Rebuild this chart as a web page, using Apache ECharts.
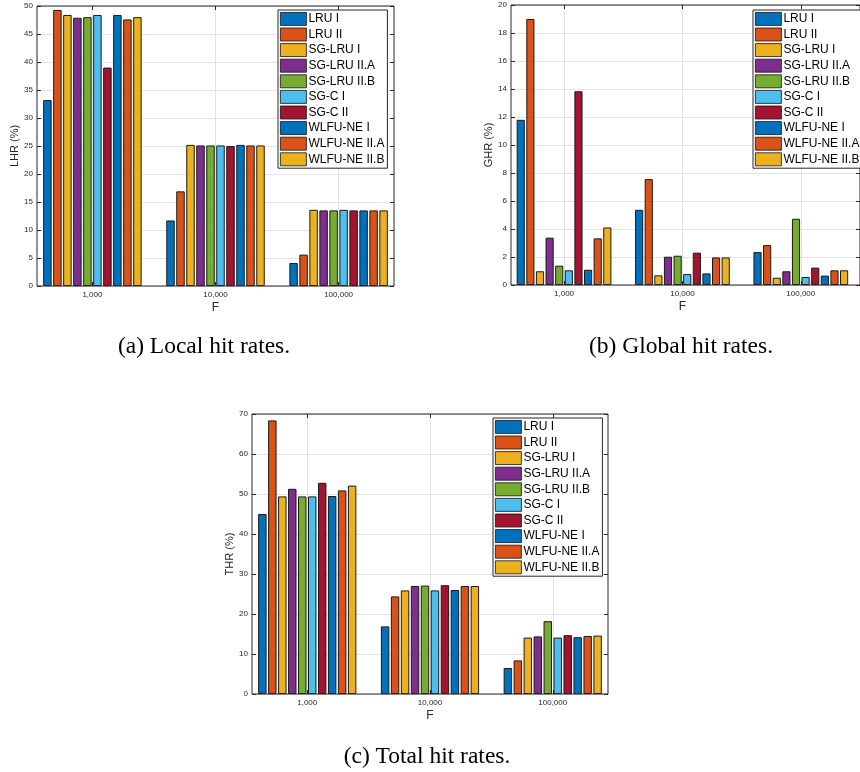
<!DOCTYPE html>
<html>
<head>
<meta charset="utf-8">
<script src="https://cdn.jsdelivr.net/npm/echarts@6/dist/echarts.min.js"></script>
<style>html,body{margin:0;padding:0;background:#fff;}#c{width:860px;height:772px;}</style>
</head>
<body>
<div id="c"></div>
<script>
const categories = ['1,000', '10,000', '100,000'];
const seriesNames = ['LRU I', 'LRU II', 'SG-LRU I', 'SG-LRU II.A', 'SG-LRU II.B', 'SG-C I', 'SG-C II', 'WLFU-NE I', 'WLFU-NE II.A', 'WLFU-NE II.B'];
const colors = ['#0072BD', '#D95319', '#EDB120', '#7E2F8E', '#77AC30', '#4DBEEE', '#A2142F', '#0072BD', '#D95319', '#EDB120'];

// Local hit rates (%) per series: [1,000, 10,000, 100,000]
const lhr = [
  [33.2, 11.7, 4.1],
  [49.3, 16.9, 5.6],
  [48.4, 25.2, 13.6],
  [47.9, 25.1, 13.5],
  [48.0, 25.1, 13.5],
  [48.4, 25.1, 13.6],
  [39.0, 25.0, 13.5],
  [48.4, 25.2, 13.5],
  [47.6, 25.1, 13.5],
  [48.0, 25.1, 13.5]
];
// Global hit rates (%)
const ghr = [
  [11.8, 5.37, 2.35],
  [19.0, 7.56, 2.85],
  [0.98, 0.69, 0.52],
  [3.38, 2.02, 0.98],
  [1.38, 2.09, 4.73],
  [1.05, 0.78, 0.57],
  [13.84, 2.31, 1.24],
  [1.09, 0.83, 0.67],
  [3.33, 1.97, 1.05],
  [4.11, 1.97, 1.05]
];
// Total hit rates (%)
const thr = [
  [45.0, 16.9, 6.5],
  [68.4, 24.4, 8.4],
  [49.4, 25.9, 14.1],
  [51.3, 27.0, 14.4],
  [49.4, 27.1, 18.2],
  [49.4, 25.9, 14.1],
  [52.8, 27.2, 14.7],
  [49.5, 26.0, 14.2],
  [50.9, 27.0, 14.5],
  [52.1, 27.0, 14.6]
];
const yTicks = {a: [0, 50, 5], b: [0, 20, 2], c: [0, 70, 10]};
const yNames = ['LHR (%)', 'GHR (%)', 'THR (%)'];
const xName = 'F';
const captions = ['(a) Local hit rates.', '(b) Global hit rates.', '(c) Total hit rates.'];

const panels = [
  {L: 37, W: 357, T: 6, H: 280, data: lhr, yt: yTicks.a, legend: [278, 10], cap: [204, 347]},
  {L: 511, W: 357, T: 5, H: 280, data: ghr, yt: yTicks.b, legend: [753, 10], cap: [681, 347]},
  {L: 252, W: 356, T: 414, H: 280, data: thr, yt: yTicks.c, legend: [493, 418], cap: [427, 757]}
];

const FONT = 'Liberation Sans';
const AX = '#262626';
const GRID = '#e3e3e3';

const grid = [], xAxis = [], yAxis = [], series = [], legend = [], graphic = [];

panels.forEach((p, i) => {
  const unit = p.W / 2.9;
  // bar grid (category bands) — xlim [0.55, 3.45]
  grid.push({left: p.L - 0.05 * unit, width: 3 * unit, top: p.T, height: p.H, containLabel: false});
  // frame grid
  grid.push({left: p.L, width: p.W, top: p.T, height: p.H, show: true, borderColor: AX, borderWidth: 1, backgroundColor: 'transparent', z: 3});
  const gb = 2 * i, gf = 2 * i + 1;
  xAxis.push({
    type: 'category', gridIndex: gb, data: categories, position: 'bottom',
    axisLine: {show: false},
    axisTick: {show: true, inside: true, alignWithLabel: true, length: 4, lineStyle: {color: AX}},
    axisLabel: {fontSize: 8, color: AX, fontFamily: FONT, margin: 5},
    splitLine: {show: true, alignWithLabel: true, lineStyle: {color: GRID, width: 1}},
    name: xName, nameLocation: 'middle', nameGap: 16,
    nameTextStyle: {fontSize: 12, color: AX, fontFamily: FONT}
  });
  xAxis.push({
    type: 'category', gridIndex: gb, data: categories, position: 'top',
    axisLine: {show: false},
    axisTick: {show: true, inside: true, alignWithLabel: true, length: 4, lineStyle: {color: AX}},
    axisLabel: {show: false}, splitLine: {show: false}
  });
  xAxis.push({type: 'value', gridIndex: gf, show: false, min: 0, max: 1});
  yAxis.push({type: 'value', gridIndex: gb, show: false, min: p.yt[0], max: p.yt[1], interval: p.yt[2]});
  yAxis.push({
    type: 'value', gridIndex: gf, position: 'left', min: p.yt[0], max: p.yt[1], interval: p.yt[2],
    axisLine: {show: false},
    axisTick: {show: true, inside: true, length: 4, lineStyle: {color: AX}},
    axisLabel: {fontSize: 8, color: AX, fontFamily: FONT, margin: 4},
    splitLine: {show: true, lineStyle: {color: GRID, width: 1}},
    name: yNames[i], nameLocation: 'middle', nameGap: 17, nameRotate: 90,
    nameTextStyle: {fontSize: 11, color: AX, fontFamily: FONT}
  });
  yAxis.push({
    type: 'value', gridIndex: gf, position: 'right', min: p.yt[0], max: p.yt[1], interval: p.yt[2],
    axisLine: {show: false},
    axisTick: {show: true, inside: true, length: 4, lineStyle: {color: AX}},
    axisLabel: {show: false}, splitLine: {show: false}
  });
  seriesNames.forEach((name, k) => {
    series.push({
      type: 'bar', name: name, xAxisIndex: 3 * i, yAxisIndex: 3 * i,
      data: p.data[k],
      barCategoryGap: '20%', barGap: '18%',
      itemStyle: {color: colors[k], borderColor: '#1a1a1a', borderWidth: 1},
      emphasis: {disabled: true},
      z: 2
    });
  });
  legend.push({
    data: seriesNames, orient: 'vertical', left: p.legend[0], top: p.legend[1],
    itemWidth: 26, itemHeight: 13, itemGap: 1.8, padding: [2, 3, 2, 2],
    borderColor: AX, borderWidth: 1, backgroundColor: '#fff',
    icon: 'rect', selectedMode: false, z: 10,
    itemStyle: {borderWidth: 0.8, borderColor: '#111'},
    textStyle: {fontSize: 12, color: '#000', fontFamily: FONT, lineHeight: 13, padding: [0, 0, 0, -3]}
  });
  graphic.push({
    type: 'text', x: p.cap[0], y: p.cap[1],
    style: {text: captions[i], fontSize: 23.5, fontFamily: 'Liberation Serif', fill: '#000', textAlign: 'center', textVerticalAlign: 'middle'}
  });
});

const chart = echarts.init(document.getElementById('c'), null, {renderer: 'canvas'});
chart.setOption({
  animation: false,
  backgroundColor: '#fff',
  grid: grid, xAxis: xAxis, yAxis: yAxis, series: series, legend: legend, graphic: graphic,
  tooltip: {show: false}
});
</script>
</body>
</html>
